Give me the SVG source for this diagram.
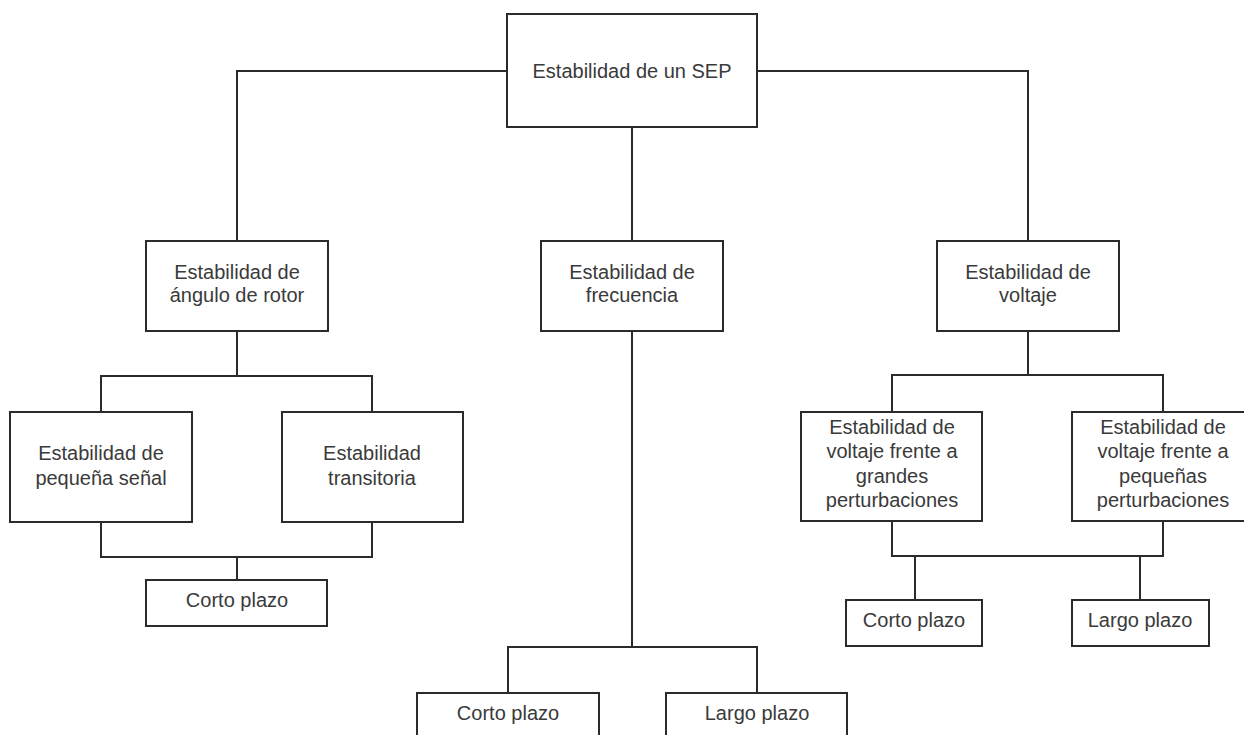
<svg xmlns="http://www.w3.org/2000/svg" width="1244" height="735" viewBox="0 0 1244 735">
<style>
.box{fill:#fff;stroke:#2b2b2b;stroke-width:2}
.con{fill:none;stroke:#2b2b2b;stroke-width:2}
text{font-family:"Liberation Sans",Arial,sans-serif;font-size:20px;fill:#3a3a3a;text-anchor:middle}
</style>
<rect width="1244" height="735" fill="#fff"/>
<g id="connectors" class="con">
<path d="M507 71H237V241"/>
<path d="M757 71H1028V241"/>
<path d="M632 127V241"/>
<path d="M237 331V376"/>
<path d="M101 412V376H372V412"/>
<path d="M101 522V557H372V522"/>
<path d="M237 557V580"/>
<path d="M632 331V647"/>
<path d="M508 693V647H757V693"/>
<path d="M1028 331V375"/>
<path d="M892 412V375H1163V412"/>
<path d="M892 521V556H1163V521"/>
<path d="M915 556V600"/>
<path d="M1140 556V600"/>
</g>
<g id="root"><rect class="box" x="507" y="14" width="250" height="113"/><text x="632" y="78">Estabilidad de un SEP</text></g>
<g id="angulo"><rect class="box" x="146" y="241" width="182" height="90"/><text x="237" y="279">Estabilidad de</text><text x="237" y="302">ángulo de rotor</text></g>
<g id="frecuencia"><rect class="box" x="541" y="241" width="182" height="90"/><text x="632" y="279">Estabilidad de</text><text x="632" y="302">frecuencia</text></g>
<g id="voltaje"><rect class="box" x="937" y="241" width="182" height="90"/><text x="1028" y="279">Estabilidad de</text><text x="1028" y="302">voltaje</text></g>
<g id="pequena-senal"><rect class="box" x="10" y="412" width="182" height="110"/><text x="101" y="460">Estabilidad de</text><text x="101" y="485">pequeña señal</text></g>
<g id="transitoria"><rect class="box" x="282" y="412" width="181" height="110"/><text x="372" y="460">Estabilidad</text><text x="372" y="485">transitoria</text></g>
<g id="corto-angulo"><rect class="box" x="146" y="580" width="181" height="46"/><text x="237" y="607">Corto plazo</text></g>
<g id="corto-frec"><rect class="box" x="417" y="693" width="182" height="60"/><text x="508" y="720">Corto plazo</text></g>
<g id="largo-frec"><rect class="box" x="666" y="693" width="181" height="60"/><text x="757" y="720">Largo plazo</text></g>
<g id="volt-grandes"><rect class="box" x="801" y="412" width="181" height="109"/><text x="892" y="434">Estabilidad de</text><text x="892" y="458">voltaje frente a</text><text x="892" y="483">grandes</text><text x="892" y="507">perturbaciones</text></g>
<g id="volt-pequenas"><rect class="box" x="1072" y="412" width="182" height="109"/><text x="1163" y="434">Estabilidad de</text><text x="1163" y="458">voltaje frente a</text><text x="1163" y="483">pequeñas</text><text x="1163" y="507">perturbaciones</text></g>
<g id="corto-volt"><rect class="box" x="846" y="600" width="136" height="46"/><text x="914" y="627">Corto plazo</text></g>
<g id="largo-volt"><rect class="box" x="1072" y="600" width="137" height="46"/><text x="1140" y="627">Largo plazo</text></g>
</svg>
